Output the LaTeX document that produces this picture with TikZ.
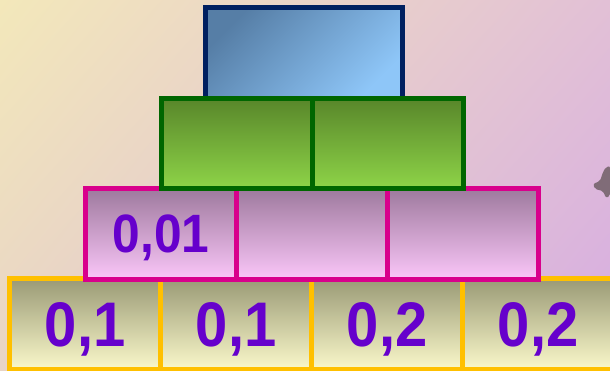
\documentclass[tikz,border=0pt]{standalone}
\usepackage{fontspec}
\usepackage{graphicx}
\usetikzlibrary{shadings}
\setmainfont{Liberation Sans}
\definecolor{bgTL}{RGB}{243,232,186}
\definecolor{bgTR}{RGB}{226,192,214}
\definecolor{bgBL}{RGB}{232,212,198}
\definecolor{bgBR}{RGB}{214,172,226}
\definecolor{blueTop}{RGB}{86,126,166}
\definecolor{blueBot}{RGB}{142,198,248}
\definecolor{blueLine}{RGB}{0,32,96}
\definecolor{greenTop}{RGB}{88,134,42}
\definecolor{greenBot}{RGB}{142,212,72}
\definecolor{greenLine}{RGB}{0,102,0}
\definecolor{pinkTop}{RGB}{158,122,158}
\definecolor{pinkBot}{RGB}{250,198,248}
\definecolor{pinkLine}{RGB}{216,0,140}
\definecolor{yelTop}{RGB}{154,154,118}
\definecolor{yelBot}{RGB}{250,248,202}
\definecolor{yelLine}{RGB}{255,192,0}
\definecolor{txt}{RGB}{102,0,204}
\definecolor{blob}{RGB}{105,90,95}
\newcommand{\numtxt}[2]{\scalebox{0.92}[1]{\fontsize{#1}{#1}\selectfont\bfseries #2}}
\tikzset{
  cell/.style={rectangle, inner sep=0pt, line width=5pt, minimum width=151pt, minimum height=90.5pt,
    text depth=0pt, text=txt},
  ycell/.style={cell, draw=yelLine, top color=yelTop, bottom color=yelBot},
  pcell/.style={cell, draw=pinkLine, top color=pinkTop, bottom color=pinkBot},
  gcell/.style={cell, draw=greenLine, top color=greenTop, bottom color=greenBot},
  bcell/.style={cell, draw=blueLine, minimum width=197pt, top color=blueTop, bottom color=blueBot, shading angle=45},
}
\begin{document}
\begin{tikzpicture}[x=1pt,y=-1pt]
\useasboundingbox (0,0) rectangle (610,370);
\clip (0,0) rectangle (610,370);
\shade[upper left=bgTL, upper right=bgTR, lower left=bgBL, lower right=bgBR] (0,0) rectangle (610,370);
% grey fragment at right edge
\fill[blob, opacity=0.8, rounded corners=2pt] (593,184) -- (600,181) -- (603,172) -- (606,167) -- (610,166) -- (610,196) -- (606,198) -- (603,191) -- (595,189) -- cycle;
% top block
\node[bcell] (b1) at (304,52.75) {};
% bottom row
\node[ycell] (y1) at (85.2,324) {\numtxt{63}{0,1}};
\node[ycell] (y2) at (236.2,324) {\numtxt{63}{0,1}};
\node[ycell] (y3) at (387.2,324) {\numtxt{63}{0,2}};
\node[ycell] (y4) at (538.2,324) {\numtxt{63}{0,2}};
% pink row
\node[pcell] (p1) at (161,234) {\numtxt{54}{0,01}};
\node[pcell] (p2) at (312,234) {};
\node[pcell] (p3) at (463,234) {};
% green row
\node[gcell] (g1) at (236.5,143.5) {};
\node[gcell] (g2) at (387.5,143.5) {};
\end{tikzpicture}
\end{document}
